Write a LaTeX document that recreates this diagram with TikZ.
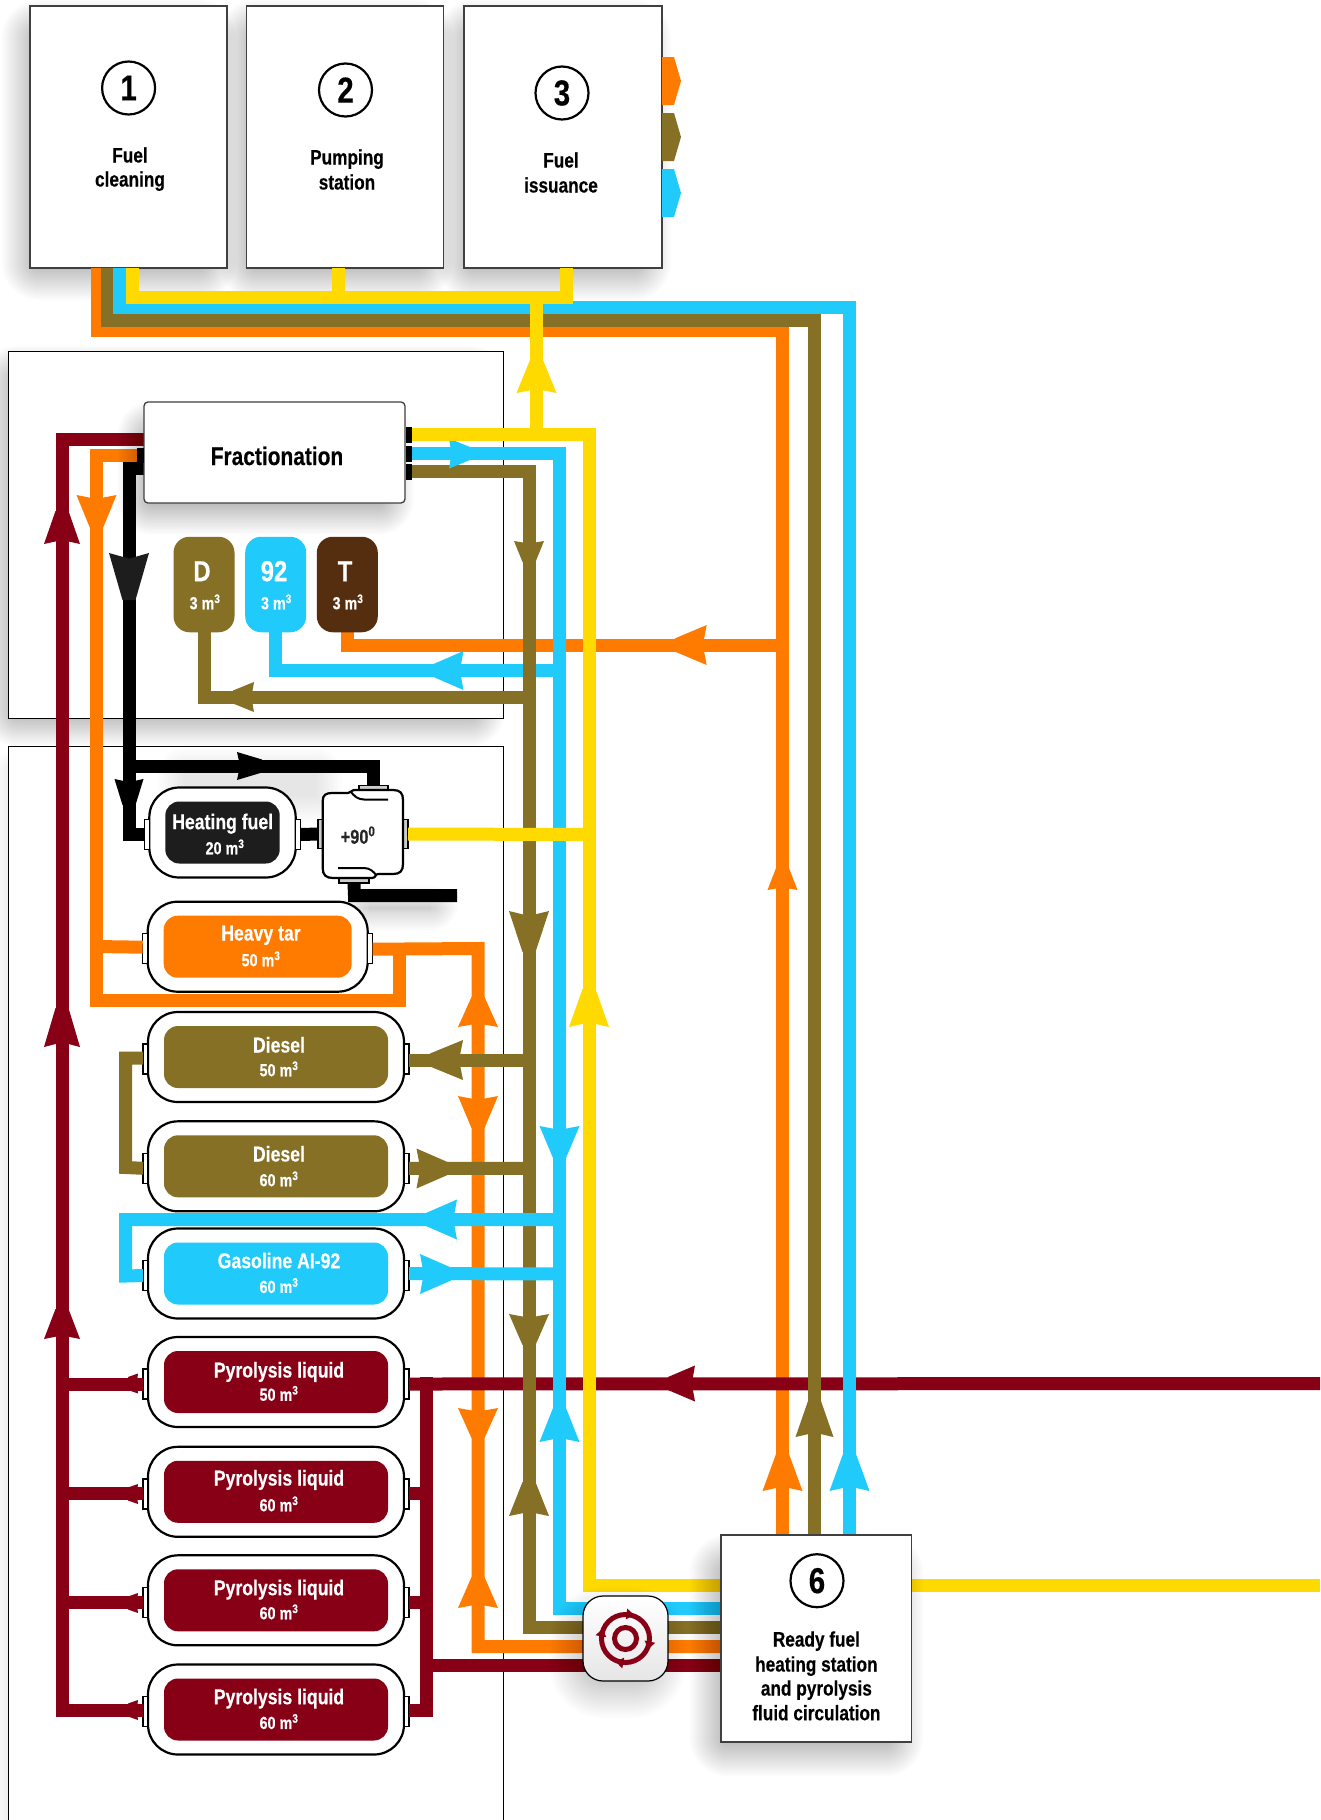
\documentclass[tikz,border=0pt]{standalone}
\usepackage{fontspec}
\setmainfont{Liberation Sans}[FakeStretch=0.82,BoldFeatures={FakeBold=0.35}]
\definecolor{cOr}{HTML}{FF7B00}
\definecolor{cOl}{HTML}{857026}
\definecolor{cBl}{HTML}{20CBFC}
\definecolor{cYe}{HTML}{FFDA00}
\definecolor{cRe}{HTML}{870016}
\definecolor{cBr}{HTML}{552E0F}
\definecolor{cBk}{HTML}{1D1D1D}
\tikzset{
  x=1pt,y=-1pt,
  pipe/.style={line width=13pt,line cap=butt,line join=miter},
  panel/.style={draw=black,fill=white,line width=.9pt},
  bigbox/.style={draw=black!75,fill=white,line width=1.3pt,inner sep=0pt,outer sep=0pt},
  numc/.style={circle,draw=black,fill=white,line width=2.2pt,minimum size=53pt,inner sep=0pt,outer sep=0pt,font=\bfseries\fontsize{36}{38}\selectfont},
  lab/.style={inner sep=0pt,text height=15pt,text depth=0pt,font=\bfseries\fontsize{21}{24}\selectfont,text=black},
  tlab/.style={inner sep=0pt,text height=15pt,text depth=0pt,font=\bfseries\fontsize{21.5}{24}\selectfont,text=white},
  vlab/.style={inner sep=0pt,text height=12.5pt,text depth=0pt,font=\bfseries\fontsize{17.5}{20}\selectfont,text=white},
  shell/.style={draw=black,fill=white,line width=2.2pt,rounded corners=30pt,inner sep=0pt,outer sep=0pt,minimum height=90pt},
  core/.style={rounded corners=14pt,inner sep=0pt,outer sep=0pt,minimum height=62pt},
  port/.style={draw=black,fill=white,line width=1.5pt,inner sep=0pt,outer sep=0pt},
  bport/.style={fill=black,inner sep=0pt,outer sep=0pt},
  mini/.style={rounded corners=16pt,inner sep=0pt,outer sep=0pt,minimum width=61pt,minimum height=95.5pt},
  bigletter/.style={inner sep=0pt,text height=21pt,text depth=0pt,font=\bfseries\fontsize{29}{32}\selectfont,text=white},
}
\newcommand\softshadow[6][1]{%
  \foreach \e in {-1,-0.92,...,0.98}{%
    \pgfmathsetmacro\rr{max(1,(\e+1)*#6)}%
    \pgfmathsetmacro\oo{.0105*#1}%
    \fill[black,opacity=\oo,rounded corners=\rr pt] ({#2-\e*#6},{#3-\e*#6}) rectangle ({#4+\e*#6},{#5+\e*#6});
  }}
% colour, barb x, barb y, angle, length to where it meets the pipe, half width
\newcommand\ahd[6]{%
  \fill[#1,shift={(#2,#3)},rotate=#4] (#5,6.5) -- (0,#6) -- ({.12*#5},0) -- (0,-#6) -- (#5,-6.5) -- cycle;}
\newcommand\tank[5]{% name cx cy w colour; ports lie 2 below the centre
  \node[shell,minimum width=#4pt] (#1) at (#2,#3) {};
  \node[core,fill=#5,minimum width={(#4-32)*1pt}] (#1-in) at (#2,#3) {};
  \node[port,minimum width=5pt,minimum height=30pt,anchor=east] (#1-L) at ({#2-#4/2},{#3+2}) {};
  \node[port,minimum width=5pt,minimum height=30pt,anchor=west] (#1-R) at ({#2+#4/2},{#3+2}) {};
}
\begin{document}
\begin{tikzpicture}
\useasboundingbox (0,0) rectangle (1320,1820);
\fill[white] (0,0) rectangle (1320,1820);

% panels and back shadows
\softshadow[.5]{4}{760}{492}{1830}{10}
\draw[panel] (8,746) rectangle (503,1830);
\softshadow{0}{362}{488}{730}{18}
\draw[panel] (8,351) rectangle (503,718);

\softshadow{20}{18}{218}{282}{20}
\softshadow{237}{18}{435}{282}{20}
\softshadow{455}{18}{653}{282}{20}
\softshadow[.7]{355}{898}{445}{918}{14}
\softshadow[.35]{170}{760}{330}{810}{14}

% boxes for the anchors
\node[bigbox,minimum width=197pt,minimum height=262pt] (b1) at (128.5,137) {};
\node[bigbox,minimum width=197pt,minimum height=262pt] (b2) at (345,137) {};
\node[bigbox,minimum width=198pt,minimum height=262pt] (b3) at (563,137) {};
\node[numc] (n1) at (128.6,88) {1};
\node[numc] (n2) at (345.5,90) {2};
\node[numc] (n3) at (562,93) {3};
\node[lab] (t1a) at (130,155) {Fuel};
\node[lab] (t1b) at (130,179) {cleaning};
\node[lab] (t2a) at (347,157) {Pumping};
\node[lab] (t2b) at (347,182) {station};
\node[lab] (t3a) at (561,160) {Fuel};
\node[lab] (t3b) at (561,185) {issuance};
\fill[cOr] (662,57) -- (674,57) -- (681,81) -- (674,105) -- (662,105) -- cycle;
\fill[cOl] (662,113) -- (674,113) -- (681,137) -- (674,161) -- (662,161) -- cycle;
\fill[cBl] (662,169) -- (674,169) -- (681,193) -- (674,217) -- (662,217) -- cycle;

% anchors used by the pipes
\coordinate (yA) at (132,297.5);
\coordinate (yB) at (338.5,304);
\coordinate (yC) at (566.5,297.5);
\coordinate (yD) at (536.5,297.5);
\coordinate (yT) at (589,434.5);
\coordinate (yJ) at (536.5,434.5);
\coordinate (yH) at (589,834.5);
\coordinate (yL) at (589,1585.5);
\coordinate (yE) at (1320,1585.5);
\coordinate (bA) at (119.5,307.5);
\coordinate (bB) at (849.5,307.5);
\coordinate (bT) at (559.5,453.5);
\coordinate (bL) at (559.5,1608.5);
\coordinate (bM) at (559.5,670.5);
\coordinate (bN) at (275,670.5);
\coordinate (bU) at (559.5,1219.5);
\coordinate (bV) at (125.7,1219.5);
\coordinate (bW) at (125.7,1276);
\coordinate (bX) at (559.5,1274);
\coordinate (oA) at (107,320);
\coordinate (oB) at (814.5,320);
\coordinate (oT) at (529,471.5);
\coordinate (oL) at (529,1627.5);
\coordinate (oM) at (529,697);
\coordinate (oN) at (204.5,697);
\coordinate (oP) at (535.5,1060);
\coordinate (oQ) at (535.5,1168.5);
\coordinate (oU) at (125.7,1058);
\coordinate (oV) at (125.7,1167.5);
\coordinate (rA) at (97,330.5);
\coordinate (rB) at (782.5,330.5);
\coordinate (rT) at (782.5,645);
\coordinate (rM) at (347.5,645);
\coordinate (rL) at (96.5,455);
\coordinate (rC) at (96.5,1000.5);
\coordinate (rD) at (399.5,1000.5);
\coordinate (rE) at (96.5,946.5);
\coordinate (rF) at (399.5,948.5);
\coordinate (rG) at (478,948.5);
\coordinate (rH) at (478,1646.5);
\coordinate (dA) at (62,439.5);
\coordinate (dB) at (62,1710);
\coordinate (dC) at (426.5,1383.5);
\coordinate (dD) at (426.5,1710);
\coordinate (dE) at (1320,1383.5);
\coordinate (dF) at (426.5,1665.5);
\coordinate (kA) at (129,468.5);
\coordinate (kB) at (129,834.5);
\coordinate (kC) at (129,766);
\coordinate (kD) at (373.5,766);
\coordinate (kE) at (354.5,895.5);
\coordinate (kF) at (457,895.5);

% central nodes needed before the pipes (drawn later on top)
\path node[minimum width=261pt,minimum height=101pt,inner sep=0pt,outer sep=0pt] (frac) at (274.5,452.5) {};
\node[bport,minimum width=6pt,minimum height=16pt] (fpY) at (409,434.5) {};
\node[bport,minimum width=6pt,minimum height=16pt] (fpB) at (409,453.5) {};
\node[bport,minimum width=6pt,minimum height=16pt] (fpO) at (409,471.5) {};
\node[bport,minimum width=7pt,minimum height=15pt] (fpR) at (140,455) {};
\path node[minimum width=190.5pt,minimum height=207pt,inner sep=0pt,outer sep=0pt] (b6) at (816.2,1638.5) {};
\path node[minimum width=80pt,minimum height=88pt,inner sep=0pt,outer sep=0pt] (heat) at (362.8,834) {};
\node[port,fill=gray!40,minimum width=29pt,minimum height=4.5pt,anchor=south] (heatT) at (373.5,790) {};
\node[port,fill=gray!40,minimum width=30pt,minimum height=5pt,anchor=north] (heatB) at (354,878) {};
\node[port,fill=gray!40,minimum width=5pt,minimum height=29pt,anchor=east] (heatL) at (323,834) {};
\node[port,fill=gray!40,minimum width=5pt,minimum height=29pt,anchor=west] (heatR) at (403,834) {};

\path node[minimum width=61pt,minimum height=95.5pt] (mD) at (204,584.5) {};
\path node[minimum width=61pt,minimum height=95.5pt] (mB) at (275.7,584.5) {};
\path node[minimum width=61pt,minimum height=95.5pt] (mT) at (347.3,584.5) {};

\tank{hfuel}{222.5}{832.5}{146.4}{cBk}
\tank{htar}{257.7}{946.7}{220}{cOr}
\tank{d50}{276}{1057}{256}{cOl}
\tank{d60}{276}{1166.3}{256}{cOl}
\tank{gas}{276}{1273.5}{256}{cBl}
\tank{p50}{276}{1382}{256}{cRe}
\tank{p60a}{276}{1491.8}{256}{cRe}
\tank{p60b}{276}{1600.3}{256}{cRe}
\tank{p60c}{276}{1709.5}{256}{cRe}

% ---------------- pipes, back to front ----------------
% orange
\draw[pipe,cOr] (b1.south -| rA) -- (rA) -- (rB) -- (b6.north -| rB);
\draw[pipe,cOr] (rT) -- (rM) -- (mT.south -| rM);
\draw[pipe,cOr] (fpR.west) -- (rL) -- (rC) -- (rD) -- ([yshift=-6.5pt]rF);
\draw[pipe,cOr] (rE) -- ([yshift=1.5pt]htar-L.west);
\draw[pipe,cOr] ([yshift=-.5pt]htar-R.east) -- (rG) -- (rH) -- (b6.west |- rH);
\ahd{cOr}{96.5}{495}{-90}{33}{20}
\ahd{cOr}{706.7}{645}{180}{32}{20}
\ahd{cOr}{478}{1027}{90}{30}{20}
\ahd{cOr}{478}{1096}{-90}{32}{20}
\ahd{cOr}{478}{1408}{-90}{30}{20}
\ahd{cOr}{478}{1608}{90}{31}{20}
\ahd{cOr}{782.5}{1491}{90}{37}{20}
\ahd{cOr}{782.5}{890}{90}{22}{15}
% dark red
\draw[pipe,cRe] (frac.west |- dA) -- (dA) -- (dB) -- (p60c-L.west |- dB);
\draw[pipe,cRe] (dA |- p50-L.west) -- (p50-L.west);
\draw[pipe,cRe] (dA |- p60a-L.west) -- (p60a-L.west);
\draw[pipe,cRe] (dA |- p60b-L.west) -- (p60b-L.west);
\draw[pipe,cRe] (dE) -- (p50-R.east);
\draw[pipe,cRe] ([yshift=6.5pt]dC) -- (dD) -- (p60c-R.east |- dD);
\draw[pipe,cRe] (p60a-R.east) -- (dC |- p60a-R.east);
\draw[pipe,cRe] (p60b-R.east) -- (dC |- p60b-R.east);
\draw[pipe,cRe] (dF) -- (b6.west |- dF);
\ahd{cRe}{62}{544}{90}{33}{18}
\ahd{cRe}{62}{1047}{90}{39}{18}
\ahd{cRe}{62}{1339}{90}{30}{18}
\ahd{cRe}{695}{1383.5}{180}{27}{18}
\ahd{cRe}{138}{1383.5}{180}{10}{10}
\ahd{cRe}{138}{1494}{180}{10}{10}
\ahd{cRe}{138}{1603}{180}{10}{10}
\ahd{cRe}{138}{1710}{180}{10}{10}
% blue branch that passes under the olive main
\draw[pipe,cBl] (bM) -- (bN) -- (mB.south -| bN);
\ahd{cBl}{463.5}{670.5}{180}{30}{19.5}
% olive
\draw[pipe,cOl] (b1.south -| oA) -- (oA) -- (oB) -- (b6.north -| oB);
\draw[pipe,cOl] (fpO.east) -- (oT) -- (oL) -- (b6.west |- oL);
\draw[pipe,cOl] (oM) -- (oN) -- (mD.south -| oN);
\draw[pipe,cOl] (oP) -- ([yshift=-1pt]d50-R.east);
\draw[pipe,cOl] (oQ) -- (d60-R.east);
\draw[pipe,cOl] ([yshift=1pt]d50-L.west) -- (oU) -- (oV) -- (d60-L.west);
\ahd{cOl}{529}{541}{-90}{21}{15}
\ahd{cOl}{529}{911}{-90}{41}{20}
\ahd{cOl}{529}{1314}{-90}{31}{20}
\ahd{cOl}{529}{1516}{90}{34}{20}
\ahd{cOl}{463}{1060}{180}{33}{20}
\ahd{cOl}{416.5}{1168.5}{0}{31}{20}
\ahd{cOl}{254}{697}{180}{21}{15}
\ahd{cOl}{814.5}{1437}{90}{36}{19}
% blue
\draw[pipe,cBl] (b1.south -| bA) -- (bA) -- (bB) -- (b6.north -| bB);
\draw[pipe,cBl] (fpB.east) -- (bT) -- (bL) -- (b6.west |- bL);
\draw[pipe,cBl] (bU) -- (bV) -- (bW) -- (gas-L.west);
\draw[pipe,cBl] (bX) -- ([yshift=2pt]gas-R.east);
\ahd{cBl}{449}{453.5}{0}{21}{15}
\ahd{cBl}{559.5}{1126}{-90}{32}{20}
\ahd{cBl}{559.5}{1442}{90}{34}{20}
\ahd{cBl}{457}{1219.5}{180}{31}{20}
\ahd{cBl}{420}{1274}{0}{31}{20}
\ahd{cBl}{849.5}{1491}{90}{37}{20}
% yellow
\draw[pipe,cYe] (b1.south -| yA) -- (yA) -- (yC) -- (b3.south -| yC);
\draw[pipe,cYe] (b2.south -| yB) -- (yB);
\draw[pipe,cYe] (yD) -- (yJ);
\draw[pipe,cYe] (fpY.east) -- (yT) -- (yL) -- (b6.west |- yL);
\draw[pipe,cYe] (heatR.east) -- (yH);
\draw[pipe,cYe] (b6.east |- yL) -- (yE);
\ahd{cYe}{536.5}{393}{90}{33}{20}
\ahd{cYe}{589}{1027}{90}{38}{20}
% black
\draw[pipe,black] (frac.west |- kA) -- (kA) -- (kB) -- (hfuel-L.west);
\draw[pipe,black] (kC) -- (kD) -- (heatT.north);
\draw[pipe,black] (hfuel-R.east) -- (heatL.west);
\draw[pipe,black] (heatB.south) -- (kE) -- (kF);
\ahd{cBk}{129}{553}{-90}{47}{20}
\ahd{black}{129}{779}{-90}{26}{14.5}
\ahd{black}{237}{766}{0}{25}{14}

% ---------------- front shadows over the pipes ----------------
\softshadow{134}{418}{397}{518}{18}
\softshadow{575}{1612}{660}{1692}{28}
\softshadow{708}{1553}{905}{1758}{20}

% repeat the anchor boxes, drawn
\node[bigbox,fill=white,rounded corners=4pt,minimum width=261pt,minimum height=101pt] (fracbox) at (frac) {};
\node[inner sep=0pt,text height=18pt,text depth=0pt,font=\bfseries\fontsize{25.5}{28}\selectfont] (fractext) at (277,456) {Fractionation};
\node[bport,minimum width=6pt,minimum height=16pt] at (fpY) {};
\node[bport,minimum width=6pt,minimum height=16pt] at (fpB) {};
\node[bport,minimum width=6pt,minimum height=16pt] at (fpO) {};
\node[bport,minimum width=7pt,minimum height=15pt] at (fpR) {};

\node[bigbox,minimum width=190.5pt,minimum height=207pt] (b6box) at (b6) {};
\node[numc] (n6) at (817,1580.7) {6};
\node[lab] (t6a) at (816.4,1639) {Ready fuel};
\node[lab] (t6b) at (816.4,1664) {heating station};
\node[lab] (t6c) at (816.4,1688) {and pyrolysis};
\node[lab] (t6d) at (816.4,1712.7) {fluid circulation};

% pump
\node[draw=black,line width=1.2pt,rounded corners=20pt,top color=white,bottom color=black!10,minimum width=85pt,minimum height=85pt,inner sep=0pt,outer sep=0pt] (pump) at (625.5,1638.5) {};
\draw[cRe,line width=5pt] (pump.center) circle[radius=11];
\draw[cRe,line width=5pt] (pump.center) circle[radius=24];
\foreach \a in {83,-12,-100,170}{
  \fill[cRe,shift={(pump.center)},rotate=\a] (19,-2) -- (30,-2) -- (24.5,5.5) -- cycle;
}

% small reservoirs
\node[mini,fill=cOl] (mDb) at (mD) {};
\node[mini,fill=cBl] (mBb) at (mB) {};
\node[mini,fill=cBr] (mTb) at (mT) {};
\node[bigletter] (mDa) at (202,570.7) {D};
\node[bigletter] (mBa) at (274,570.7) {92};
\node[bigletter] (mTa) at (345,570.7) {T};
\node[vlab] (mDv) at (205,603) {3 m\textsuperscript{3}};
\node[vlab] (mBv) at (276.4,603) {3 m\textsuperscript{3}};
\node[vlab] (mTv) at (348,603) {3 m\textsuperscript{3}};

% heater
\draw[draw=black,fill=white,line width=2.2pt]
  (322.7,801) .. controls (322.7,795) and (326,793) .. (332,793) -- (348,793)
  .. controls (351,793) and (351,790) .. (355,790) -- (393,790)
  .. controls (400,790) and (403,793) .. (403,800) -- (403,864)
  .. controls (403,871) and (400,874) .. (393,874) -- (378,874)
  .. controls (375,874) and (376,878) .. (372,878) -- (333,878)
  .. controls (326,878) and (322.7,875) .. (322.7,868) -- cycle;
\draw[black,line width=2pt] (351,792) .. controls (354,796) and (358,799.5) .. (364,799.5) -- (388,799.5);
\draw[black,line width=2pt] (338,868) -- (364,868) .. controls (370,868) and (374,872) .. (376,875);
\node[inner sep=0pt,text height=14pt,text depth=0pt,font=\bfseries\fontsize{20}{22}\selectfont,text=black!85] (heattext) at (358,836.7) {+90\textsuperscript{0}};

% tank labels
\node[tlab] (lh1) at (222.7,821.7) {Heating fuel};
\node[vlab] (lh2) at (225,848) {20 m\textsuperscript{3}};
\node[tlab] (lt1) at (261,933) {Heavy tar};
\node[vlab] (lt2) at (261,960) {50 m\textsuperscript{3}};
\node[tlab] (l1a) at (279,1045) {Diesel};
\node[vlab] (l1b) at (279,1070) {50 m\textsuperscript{3}};
\node[tlab] (l2a) at (279,1154) {Diesel};
\node[vlab] (l2b) at (279,1180) {60 m\textsuperscript{3}};
\node[tlab] (l3a) at (279,1260.7) {Gasoline AI-92};
\node[vlab] (l3b) at (279,1286.7) {60 m\textsuperscript{3}};
\node[tlab] (l4a) at (279,1370) {Pyrolysis liquid};
\node[vlab] (l4b) at (279,1394.5) {50 m\textsuperscript{3}};
\node[tlab] (l5a) at (279,1478) {Pyrolysis liquid};
\node[vlab] (l5b) at (279,1505) {60 m\textsuperscript{3}};
\node[tlab] (l6a) at (279,1587.7) {Pyrolysis liquid};
\node[vlab] (l6b) at (279,1613) {60 m\textsuperscript{3}};
\node[tlab] (l7a) at (279,1696.7) {Pyrolysis liquid};
\node[vlab] (l7b) at (279,1722.7) {60 m\textsuperscript{3}};
\end{tikzpicture}
\end{document}
